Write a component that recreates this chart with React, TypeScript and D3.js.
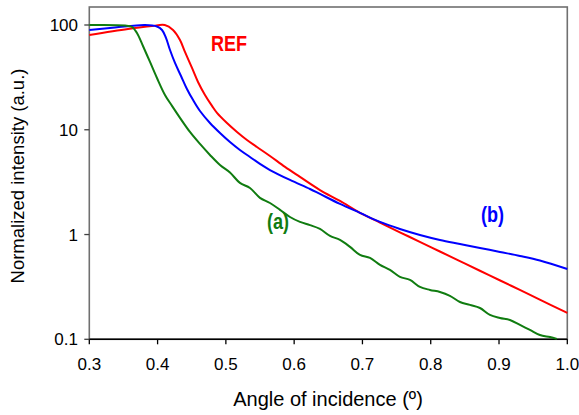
import React from "react";
import * as d3 from "d3";

const xTicks = [0.3, 0.4, 0.5, 0.6, 0.7, 0.8, 0.9, 1.0];
const yTicks = [0.1, 1, 10, 100];
const yTickLabels = ["0.1", "1", "10", "100"];

const angleA = [0.3, 0.3523, 0.3625, 0.3698, 0.3786, 0.3889, 0.3991, 0.4108, 0.4211, 0.4328, 0.4474, 0.4621, 0.4767, 0.4914, 0.506, 0.5206, 0.5353, 0.5499, 0.5646, 0.5793, 0.5939, 0.6085, 0.6232, 0.6378, 0.6525, 0.6671, 0.6818, 0.6964, 0.7111, 0.7257, 0.7403, 0.7549, 0.7696, 0.7842, 0.7989, 0.8135, 0.8281, 0.8428, 0.8574, 0.8721, 0.8867, 0.9014, 0.916, 0.9307, 0.9453, 0.9599, 0.9746, 0.9848];
const intensityA = [100, 98.9, 95.7, 83.9, 63.0, 44.4, 31.2, 21.5, 16.9, 13.0, 9.53, 7.32, 5.75, 4.61, 3.91, 3.11, 2.78, 2.24, 2.0, 1.72, 1.47, 1.32, 1.23, 1.13, 0.97, 0.888, 0.762, 0.639, 0.598, 0.513, 0.459, 0.394, 0.369, 0.316, 0.296, 0.283, 0.26, 0.227, 0.213, 0.199, 0.171, 0.16, 0.153, 0.137, 0.123, 0.11, 0.105, 0.101];

const angleB = [0.3, 0.3376, 0.3815, 0.3991, 0.4065, 0.4123, 0.4182, 0.4255, 0.4343, 0.443, 0.4518, 0.4621, 0.4767, 0.4914, 0.506, 0.5206, 0.5353, 0.5499, 0.5646, 0.5939, 0.6232, 0.6378, 0.6671, 0.6964, 0.7257, 0.7549, 0.7842, 0.8135, 0.8428, 0.8721, 0.9014, 0.9307, 0.9599, 1.0];
const intensityB = [89.6, 94.6, 100, 96.8, 89.6, 75.2, 57.7, 43.4, 32.6, 24.5, 19.3, 15.1, 11.6, 9.32, 7.65, 6.42, 5.5, 4.72, 4.13, 3.32, 2.72, 2.44, 1.96, 1.61, 1.32, 1.13, 0.991, 0.888, 0.813, 0.745, 0.682, 0.625, 0.566, 0.469];

const angleRef = [0.3, 0.3567, 0.3918, 0.4105, 0.4226, 0.4328, 0.4401, 0.4504, 0.4592, 0.4694, 0.4797, 0.487, 0.5016, 0.5163, 0.5309, 0.5455, 0.5646, 0.5866, 0.6085, 0.6378, 0.6671, 0.6964, 0.7256, 0.7548, 0.784, 0.8134, 0.8427, 0.872, 0.901, 0.9305, 0.9597, 1.0];
const intensityRef = [80.3, 91.6, 97.8, 100, 89.6, 71.9, 55.3, 38.9, 28.6, 21.5, 16.9, 14.5, 11.6, 9.53, 7.99, 6.85, 5.62, 4.42, 3.55, 2.66, 2.09, 1.61, 1.3, 1.05, 0.852, 0.689, 0.557, 0.451, 0.366, 0.296, 0.239, 0.179];

const series = [
  { name: "REF", xs: angleRef, ys: intensityRef, color: "#ff0000" },
  { name: "(b)", xs: angleB, ys: intensityB, color: "#0000ff" },
  { name: "(a)", xs: angleA, ys: intensityA, color: "#107c10" },
];

const labelText = ["REF", "(b)", "(a)"];
const labelAngle = [0.5046, 0.8904, 0.5763];
const labelColor = ["#ff0000", "#0000ff", "#107c10"];

export default function App() {
  const W = 579;
  const H = 415;
  const left = 89.3;
  const right = 567.3;
  const bottom = 339.3;
  const frameTop = 7;
  const x = d3.scaleLinear().domain([0.3, 1.0]).range([left, right]);
  const y = d3.scaleLog().domain([0.1, 100]).range([bottom, 25]);
  const line = d3
    .line<[number, number]>()
    .x((d) => x(d[0]))
    .y((d) => y(d[1]))
    .curve(d3.curveCatmullRom.alpha(0.5));
  const font = "'Liberation Sans', Arial, sans-serif";
  const labelY = [50.7, 222, 229];
  return (
    <svg
      width={W}
      height={H}
      style={{ position: "absolute", left: 0, top: 0, background: "#fff" }}
    >
      <rect
        x={left}
        y={frameTop}
        width={right - left}
        height={bottom - frameTop}
        fill="none"
        stroke="#707070"
        strokeWidth={1.6}
      />
      <line x1={left} x2={right} y1={bottom} y2={bottom} stroke="#000" strokeWidth={1.6} />
      {xTicks.map((t) => (
        <g key={"x" + t}>
          <line x1={x(t)} x2={x(t)} y1={bottom} y2={bottom + 5} stroke="#000" strokeWidth={1.3} />
          <text
            x={x(t)}
            y={369.5}
            textAnchor="middle"
            fontFamily={font}
            fontSize={17}
            fill="#000"
          >
            {t.toFixed(1)}
          </text>
        </g>
      ))}
      {yTicks.map((t, i) => (
        <g key={"y" + t}>
          <line x1={left - 5} x2={left} y1={y(t)} y2={y(t)} stroke="#404040" strokeWidth={1.3} />
          <text
            x={78}
            y={y(t) + 6}
            textAnchor="end"
            fontFamily={font}
            fontSize={17}
            fill="#000"
          >
            {yTickLabels[i]}
          </text>
        </g>
      ))}
      {series.map((s) => (
        <path
          key={s.name}
          d={line(s.xs.map((v, i) => [v, s.ys[i]] as [number, number])) || ""}
          fill="none"
          stroke={s.color}
          strokeWidth={2}
          strokeLinejoin="round"
        />
      ))}
      {labelText.map((t, i) => (
        <text
          key={t}
          transform={`translate(${x(labelAngle[i])}, ${labelY[i]}) scale(0.82, 1)`}
          textAnchor="middle"
          fontFamily={font}
          fontWeight="bold"
          fontSize={22}
          fill={labelColor[i]}
        >
          {t}
        </text>
      ))}
      <text
        x={(232 + 424) / 2}
        y={405.5}
        textAnchor="middle"
        fontFamily={font}
        fontSize={20}
        fill="#000"
      >
        Angle of incidence (º)
      </text>
      <text
        transform={`translate(24, ${176}) rotate(-90)`}
        textAnchor="middle"
        fontFamily={font}
        fontSize={18.5}
        fill="#000"
      >
        Normalized intensity (a.u.)
      </text>
    </svg>
  );
}
